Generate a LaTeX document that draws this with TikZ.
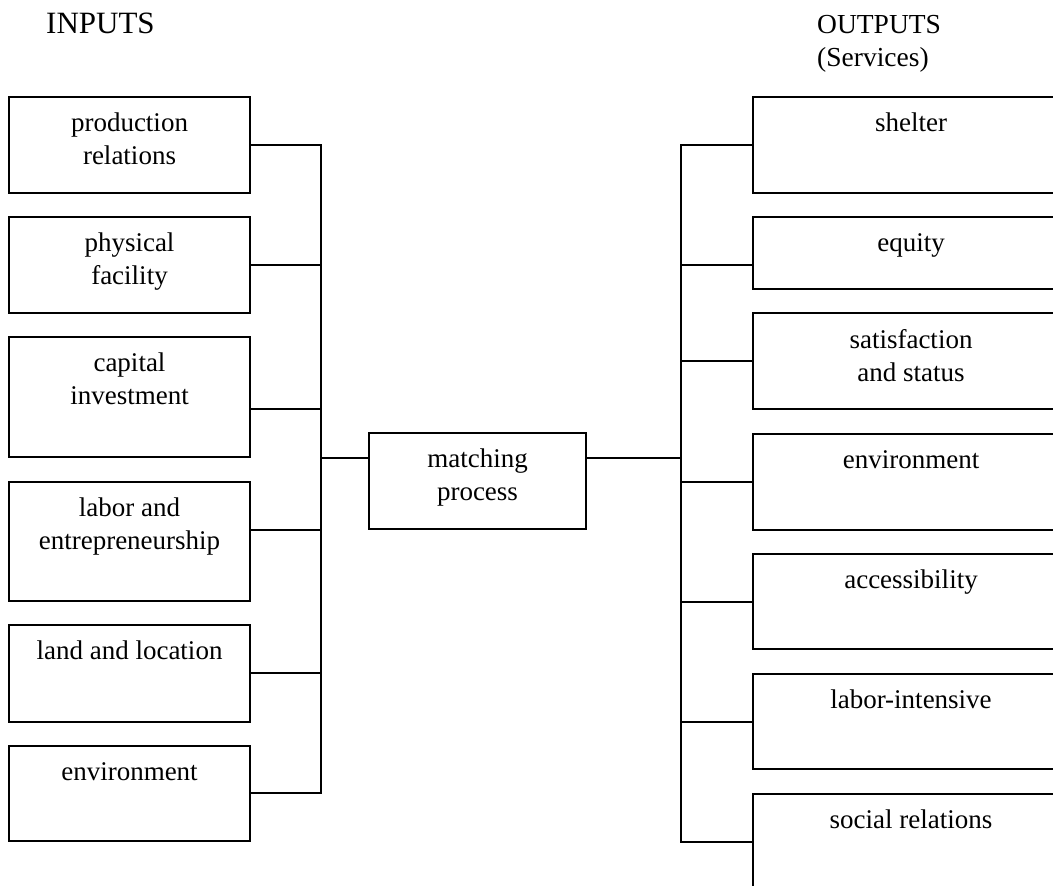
\documentclass[tikz,border=0pt]{standalone}
\usepackage{fontspec}
\setmainfont{Liberation Serif}

\begin{document}
\begin{tikzpicture}[x=1pt,y=-1pt,
  box/.style={draw,line width=2pt,anchor=north west,inner sep=0pt,minimum width=#1},
  boxtext/.style={anchor=north,yshift=-17pt,inner sep=0pt,align=center,font=\fontsize{27}{33}\selectfont},
  wire/.style={line width=2pt,line cap=rect}]
 \useasboundingbox (0,0) rectangle (1053,886);
 \clip (0,0) rectangle (1053,886);
 \node[anchor=base west,inner sep=0pt,font=\fontsize{31}{36}\selectfont] (inhead) at (46,33) {INPUTS};
 \node[anchor=north west,inner sep=0pt,align=left,font=\fontsize{27.5}{33}\selectfont] (outhead) at (817,15) {OUTPUTS\\(Services)};
 \coordinate (lbus) at (321,0);
 \coordinate (rbus) at (681,0);
 \foreach \n/\y/\h/\s/\txt in {1/96/96/0/{production\\relations},2/216/96/0/{physical\\facility},
   3/336/120/-12/{capital\\investment},4/481/119/11.5/{labor and\\entrepreneurship},
   5/624/97/0.5/{land and location},6/745/95/0.5/{environment}} {
   \node[box=241,minimum height=\h,label={[boxtext]north:\txt}] (in\n) at (8,\y) {};
   \draw[wire] ([yshift=\s]in\n.east) coordinate (a\n) -- (a\n -| lbus);
 }
 \foreach \n/\y/\h/\s/\txt in {1/96/96/0/{shelter},2/216/72/-12/{equity},
   3/312/96/0/{satisfaction\\and status},4/433/96/0/{environment},5/553/95/-0.5/{accessibility},
   6/673/95/-0.5/{labor-intensive},7/793/96/0/{social relations}} {
   \node[box=316,minimum height=\h,label={[boxtext]north:\txt}] (out\n) at (752,\y) {};
   \draw[wire] ([yshift=\s]out\n.west) coordinate (b\n) -- (b\n -| rbus);
 }
 \draw[wire] (a1 -| lbus) -- (a6 -| lbus);
 \draw[wire] (b1 -| rbus) -- (b7 -| rbus);
 \node[box=217,minimum height=96,label={[boxtext]north:{matching\\process}}] (match) at (368,432) {};
 \draw[wire] ([yshift=23]match.west) coordinate (mw) -- (mw -| lbus);
 \draw[wire] ([yshift=23]match.east) coordinate (me) -- (me -| rbus);
\end{tikzpicture}
\end{document}
